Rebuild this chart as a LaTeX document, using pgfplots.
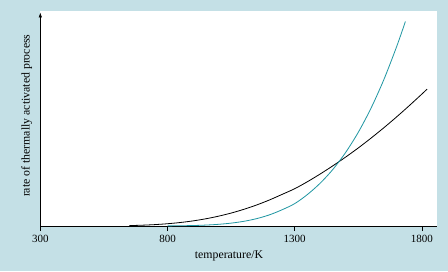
\documentclass[border=0pt]{standalone}
\usepackage{pgfplots}
\pgfplotsset{compat=1.18}
\usepackage{fontspec}
\setmainfont{Liberation Serif}
\usetikzlibrary{arrows.meta}
\definecolor{bgblue}{RGB}{196,224,230}
\definecolor{tealc}{RGB}{30,150,162}
\begin{document}
\begin{tikzpicture}[x=1pt,y=1pt]
\fill[bgblue] (-40.3,-45) rectangle (407.7,226);
\fill[white] (0,0) rectangle (396.4,214.5);
\begin{axis}[
  at={(0,0)}, anchor=south west,
  scale only axis, width=396.4pt, height=214.5pt,
  xmin=300, xmax=1858, ymin=0, ymax=214.5,
  axis x line=bottom, axis y line=left,
  x axis line style={-},
  y axis line style={-{Latex[length=5pt,width=3.5pt]}, shorten >=1pt},
  xtick={300,800,1300,1800}, ytick=\empty,
  tick align=outside, major tick length=5pt,
  tick style={black, semithick},
  axis line style={black, semithick},
  xticklabel style={font=\fontsize{11}{13}\selectfont, yshift=-1pt},
  /pgf/number format/assume math mode=true,
  /pgf/number format/1000 sep={},
  xlabel={temperature/K},
  ylabel={rate of thermally activated process},
  label style={font=\fontsize{11.8}{13}\selectfont},
  xlabel style={at={(rel axis cs:0.476,0)}, anchor=center, yshift=-29.7pt},
  ylabel style={at={(rel axis cs:0,0.514)}, anchor=center, yshift=13.6pt},
  clip=false,
]
\addplot[black, line width=0.8pt, smooth] coordinates {
 (650,0.4) (700,0.8) (750,1.39) (800,2.27) (850,3.48) (900,5.10) (950,7.19)
 (1000,9.79) (1050,12.93) (1100,16.67) (1150,21.0) (1200,25.96) (1250,31.56)
 (1300,37.3) (1350,44.3) (1400,52.0) (1450,60.2) (1500,68.9) (1550,78.1)
 (1600,87.9) (1650,98.2) (1700,109.0) (1750,120.3) (1800,132.0) (1820,136.8)
};
\addplot[tealc, line width=0.8pt, smooth] coordinates {
 (800,0.1) (850,0.25) (900,0.47) (950,0.92) (1000,1.67) (1050,2.87) (1100,4.69)
 (1150,7.34) (1200,11.09) (1250,16.2) (1300,22.4) (1350,31.5) (1400,42.8)
 (1450,56.6) (1500,73.5) (1550,93.8) (1600,117.9) (1650,146.2) (1700,179.0)
 (1735,204.5)
};
\end{axis}
\end{tikzpicture}
\end{document}
